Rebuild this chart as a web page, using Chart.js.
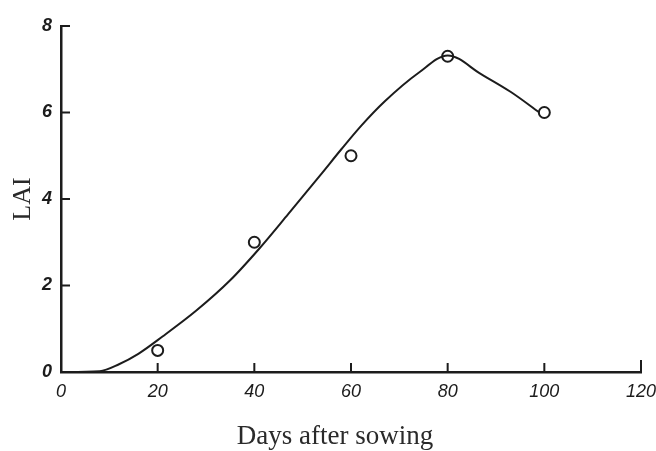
<!DOCTYPE html>
<html>
<head>
<meta charset="utf-8">
<title>LAI</title>
<script src="https://cdn.jsdelivr.net/npm/chart.js@4"></script>
<style>
  html, body { margin: 0; padding: 0; background: #fff; }
  canvas { display: block; }
</style>
</head>
<body>
<canvas id="laiChart" width="656" height="451"></canvas>
<script>
// measured LAI
const days = [20, 40, 60, 80, 100];
const lai = [0.5, 3.0, 5.0, 7.3, 6.0];

// fitted curve drawn through the points
const curveDays = [0, 8, 12, 16, 21, 28, 35, 41, 47, 54, 58, 62, 67, 74, 80, 87, 93, 99];
const curveLai = [0, 0.02, 0.18, 0.42, 0.82, 1.42, 2.12, 2.85, 3.65, 4.6, 5.15, 5.68, 6.26, 6.92, 7.32, 6.88, 6.48, 6.0];

// axis ticks
const xTicks = [0, 20, 40, 60, 80, 100, 120];
const yTicks = [0, 2, 4, 6, 8];

const ink = '#1c1c1c';

// short tick marks pointing into the plot
const innerTicks = {
  id: 'innerTicks',
  afterDraw(chart) {
    const {ctx, chartArea, scales} = chart;
    ctx.save();
    ctx.strokeStyle = ink;
    ctx.lineWidth = 2;
    ctx.beginPath();
    xTicks.forEach(function (v) {
      if (v === 0) return;
      const px = scales.x.getPixelForValue(v);
      ctx.moveTo(px, chartArea.bottom);
      ctx.lineTo(px, chartArea.bottom - (v === 120 ? 12 : 9));
    });
    yTicks.forEach(function (v) {
      if (v === 0) return;
      const py = scales.y.getPixelForValue(v);
      ctx.moveTo(chartArea.left, py);
      ctx.lineTo(chartArea.left + 9, py);
    });
    ctx.stroke();
    ctx.restore();
  }
};

// x axis title, sits a little left of centre
const xTitle = {
  id: 'xTitle',
  afterDraw(chart) {
    const ctx = chart.ctx;
    ctx.save();
    ctx.fillStyle = '#2a2a2a';
    ctx.font = '27px "Liberation Serif"';
    ctx.textAlign = 'center';
    ctx.textBaseline = 'middle';
    ctx.fillText('Days after sowing', 335, 437);
    ctx.restore();
  }
};

const config = {
  type: 'line',
  data: {
    datasets: [{
      label: 'fit',
      data: curveDays.map(function (d, i) { return {x: d, y: curveLai[i]}; }),
      borderColor: ink,
      borderWidth: 2,
      pointRadius: 0,
      cubicInterpolationMode: 'monotone',
      fill: false
    }, {
      label: 'LAI',
      data: days.map(function (d, i) { return {x: d, y: lai[i]}; }),
      showLine: false,
      pointStyle: 'circle',
      pointRadius: 5.5,
      pointBorderWidth: 2,
      pointBorderColor: ink,
      pointBackgroundColor: '#fff'
    }]
  },
  options: {
    responsive: false,
    animation: false,
    layout: { padding: { top: 26, right: 15, left: 0, bottom: 0 } },
    plugins: {
      legend: { display: false },
      tooltip: { enabled: false }
    },
    scales: {
      x: {
        type: 'linear',
        min: 0,
        max: 120,
        afterBuildTicks: function (s) { s.ticks = xTicks.map(function (v) { return {value: v}; }); },
        afterFit: function (s) {
          s.height = 79;
          s.paddingLeft = 0;
          s.paddingRight = 0;
        },
        grid: { display: false, drawTicks: false },
        border: { display: true, color: ink, width: 2.5 },
        ticks: {
          color: ink,
          padding: 9,
          font: { family: '"Liberation Sans"', size: 18, style: 'italic' }
        }
      },
      y: {
        type: 'linear',
        min: 0,
        max: 8,
        afterBuildTicks: function (s) { s.ticks = yTicks.map(function (v) { return {value: v}; }); },
        afterFit: function (s) {
          s.width = 61;
          s.paddingTop = 0;
          s.paddingBottom = 0;
        },
        grid: { display: false, drawTicks: false },
        border: { display: true, color: ink, width: 2.5 },
        ticks: {
          color: ink,
          padding: 9,
          font: { family: '"Liberation Sans"', size: 18, style: 'italic', weight: 'bold' }
        },
        title: {
          display: true,
          text: 'LAI',
          color: '#2a2a2a',
          padding: { top: 8, bottom: 0 },
          font: { family: '"Liberation Serif"', size: 26 }
        }
      }
    }
  },
  plugins: [innerTicks, xTitle]
};

const laiChart = new Chart(document.getElementById('laiChart'), config);
</script>
</body>
</html>
